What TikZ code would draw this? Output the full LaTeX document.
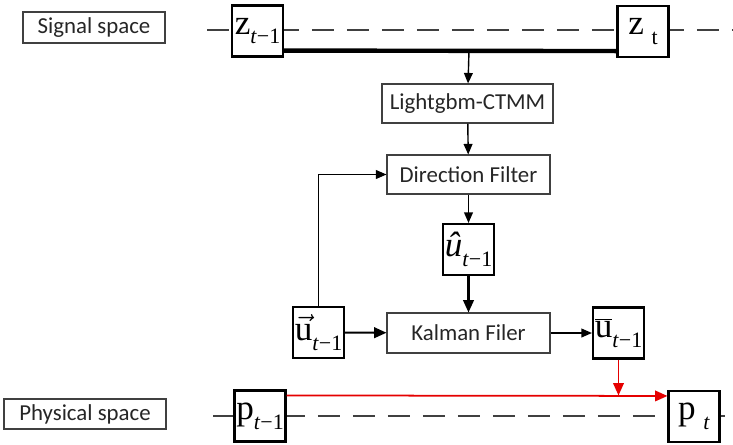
\documentclass[tikz,border=0pt]{standalone}
\usepackage{fontspec}
\setmainfont{Carlito}
\newfontfamily\tnr{Liberation Serif}
\usetikzlibrary{arrows.meta}
\newcommand{\subidx}[1]{\raisebox{-0.6ex}{\fontsize{12.5}{12.5}\selectfont #1}}
\newcommand{\varbox}[2]{{\tnr\fontsize{20}{20}\selectfont #1\subidx{#2}}}
\begin{document}
\begin{tikzpicture}[x=0.02cm, y=-0.02cm,
    txtbox/.style={draw=black!75, line width=0.6pt, fill=white, inner sep=0pt, font=\fontsize{13}{15}\selectfont, text=black!85},
    varnode/.style={draw=black, line width=1.2pt, fill=white, minimum size=1.02cm, inner sep=0pt},
    flow/.style={line width=0.8pt, -{Triangle[length=6pt, width=5pt]}},
    heavyflow/.style={line width=1.2pt, -{Triangle[length=7pt, width=6pt]}},
    timeline/.style={black!75, line width=0.7pt, dash pattern=on 0.44cm off 0.26cm},
    redflow/.style={red!90!black, line width=1pt, -{Triangle[length=7pt, width=6pt]}}]
 \useasboundingbox (0,0) rectangle (733,444);
 \begin{scope}
        % time axes
        \coordinate (sa) at (207,30);
        \coordinate (sb) at (733,30);
        \coordinate (pa) at (213,416);
        \coordinate (pb) at (733,416);
        \draw[timeline] (sa) -- (sb);
        \draw[timeline] (pa) -- (pb);
        \node[txtbox, minimum width=2.84cm, minimum height=0.62cm] (sig) at (94,27.5) {Signal space};
        \node[txtbox, minimum width=3.24cm, minimum height=0.6cm] (phys) at (85,414) {Physical space};
        \node[varnode] (z-1) at (257.5,31) {\varbox{z}{\textit{t}−1}};
        \node[varnode] (z-2) at (643,31.5) {\varbox{z}{\hspace{0.35em}t}};
        \node[txtbox, minimum width=3.42cm, minimum height=0.78cm] (ctmm) at (467.5,103.5) {Lightgbm-CTMM};
        \node[txtbox, minimum width=3.26cm, minimum height=0.78cm] (dirf) at (468.5,174.5) {Direction Filter};
        \node[varnode] (uhat) at (468.5,249.5) {\varbox{\textit{û}}{\textit{t}−1}};
        \node[txtbox, minimum width=3.26cm, minimum height=0.8cm] (kal) at (468.5,333) {Kalman Filer};
        \node[varnode] (uvec) at (318.5,332.5) {\varbox{$\vec{\mbox{\tnr u}}$}{\textit{t}−1}};
        \node[varnode] (ubar) at (618.5,333) {\varbox{$\overline{\mbox{\tnr u}}$}{\textit{t}−1}};
        \node[varnode] (p-1) at (260,416) {\varbox{p}{\textit{t}−1}};
        \node[varnode] (p-2) at (694,416.5) {\varbox{p}{\hspace{0.35em}\textit{t}}};
        % links
        \coordinate (tap) at (469,50);
        \draw[line width=2.5pt] ([yshift=0.14cm]z-1.south east) -- ([yshift=0.14cm]z-2.south west);
        \draw[flow] (tap) -- (ctmm);
        \draw[flow] (ctmm) -- (dirf);
        \draw[flow] (dirf) -- (uhat);
        \draw[heavyflow] (uhat) -- (kal);
        \draw[flow] (uvec.north) |- (dirf.west);
        \draw[heavyflow] (uvec) -- (kal);
        \draw[flow] (kal) -- (ubar);
        \coordinate (rs) at ([yshift=-0.12cm]p-1.north east);
        \coordinate (re) at ([yshift=-0.12cm]p-2.north west);
        \draw[redflow] (rs) -- (re);
        \draw[redflow] (ubar.south) -- (ubar.south |- rs);
    \end{scope}
\end{tikzpicture}
\end{document}
